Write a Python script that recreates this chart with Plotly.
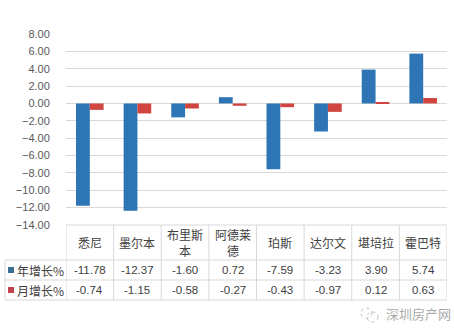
import plotly.graph_objects as go

# City price growth data
cities = ["悉尼", "墨尔本", "布里斯本", "阿德莱德", "珀斯", "达尔文", "堪培拉", "霍巴特"]
city_labels = ["悉尼", "墨尔本", "布里斯<br>本", "阿德莱<br>德", "珀斯", "达尔文", "堪培拉", "霍巴特"]
annual_growth = [-11.78, -12.37, -1.60, 0.72, -7.59, -3.23, 3.90, 5.74]
monthly_growth = [-0.74, -1.15, -0.58, -0.27, -0.43, -0.97, 0.12, 0.63]
series_names = ["年增长%", "月增长%"]
series_colors = ["#2E75B6", "#D0453F"]
key_colors = ["#3A6F93", "#C0434F"]
y_ticks = [8, 6, 4, 2, 0, -2, -4, -6, -8, -10, -12, -14]

W, H = 454, 334
def px(x):
    return x / W
def py(y):
    return 1 - y / H

fig = go.Figure()
for name, vals, col in zip(series_names, [annual_growth, monthly_growth], series_colors):
    fig.add_trace(go.Bar(x=cities, y=vals, name=name, marker=dict(color=col, line=dict(width=0)),
                         showlegend=False, hoverinfo="skip"))

plot_left, plot_right = 66, 447
plot_top, plot_bottom = 34, 225
table_rows = [225, 260, 280, 300]
grid = "#D9D9D9"

shapes = []
# Table horizontal rules
for i, yy in enumerate(table_rows):
    x0 = plot_left if i == 0 else 5
    shapes.append(dict(type="line", xref="paper", yref="paper", x0=px(x0), x1=px(plot_right),
                       y0=py(yy), y1=py(yy), line=dict(color=grid, width=1)))
# Table vertical rules (category boundaries)
n = len(cities)
for k in range(n + 1):
    shapes.append(dict(type="line", xref="x", yref="paper", x0=k - 0.5, x1=k - 0.5,
                       y0=py(table_rows[0]), y1=py(table_rows[-1]), line=dict(color=grid, width=1)))
shapes.append(dict(type="line", xref="paper", yref="paper", x0=px(5), x1=px(5),
                   y0=py(table_rows[1]), y1=py(table_rows[-1]), line=dict(color=grid, width=1)))
# Series keys in the table
for i, kc in enumerate(key_colors):
    yc = (table_rows[i + 1] + table_rows[i + 2]) / 2
    shapes.append(dict(type="rect", xref="paper", yref="paper", x0=px(8), x1=px(14),
                       y0=py(yc + 3), y1=py(yc - 3), fillcolor=kc, line=dict(width=0)))

annotations = []
txt_font = dict(family="Liberation Sans, Noto Sans CJK SC", size=11.5, color="#404040")
cjk_font = dict(family="Noto Sans CJK SC", size=12, color="#404040")
hdr_y = (table_rows[0] + table_rows[1]) / 2
for k, lab in enumerate(city_labels):
    annotations.append(dict(x=k, y=py(hdr_y), xref="x", yref="paper", text=lab, showarrow=False,
                            font=cjk_font, xanchor="center", yanchor="middle", borderpad=0))
for i, (name, vals) in enumerate(zip(series_names, [annual_growth, monthly_growth])):
    yc = (table_rows[i + 1] + table_rows[i + 2]) / 2
    annotations.append(dict(x=px(15), y=py(yc), xref="paper", yref="paper", text=name,
                            showarrow=False, font=cjk_font, xanchor="left", yanchor="middle"))
    for k, v in enumerate(vals):
        annotations.append(dict(x=k, y=py(yc), xref="x", yref="paper", text=f"{v:.2f}",
                                showarrow=False, font=txt_font, xanchor="center", yanchor="middle"))

# Watermark
annotations.append(dict(x=px(384), y=py(313), xref="paper", yref="paper", text="深圳房产网",
                        showarrow=False, xanchor="left", yanchor="middle",
                        font=dict(family="Noto Sans CJK SC", size=13, color="#ABABAB")))
shapes.append(dict(type="circle", xref="paper", yref="paper", x0=px(361), x1=px(372),
                   y0=py(318), y1=py(308), line=dict(color="#BDBDBD", width=1, dash="dot")))
shapes.append(dict(type="circle", xref="paper", yref="paper", x0=px(367), x1=px(378),
                   y0=py(322), y1=py(312), line=dict(color="#BDBDBD", width=1, dash="dot")))

fig.update_layout(
    width=W, height=H,
    margin=dict(l=0, r=0, t=0, b=0, autoexpand=False),
    paper_bgcolor="white", plot_bgcolor="white",
    barmode="group", bargap=0.42, bargroupgap=0,
    xaxis=dict(domain=[px(plot_left), px(plot_right)], range=[-0.5, n - 0.5], automargin=False,
               showticklabels=False, showgrid=False, zeroline=False, showline=False, fixedrange=True),
    yaxis=dict(domain=[py(plot_bottom), py(plot_top)], range=[-14, 8], tickvals=y_ticks,
               automargin=False, tickformat=".2f", showgrid=True, gridcolor=grid, gridwidth=1,
               zeroline=True, zerolinecolor=grid, zerolinewidth=1, showline=False,
               ticks="outside", ticklen=13, tickcolor="rgba(0,0,0,0)",
               tickfont=dict(family="Liberation Sans", size=11, color="#595959")),
    shapes=shapes, annotations=annotations,
)

fig.write_html("out.html")
